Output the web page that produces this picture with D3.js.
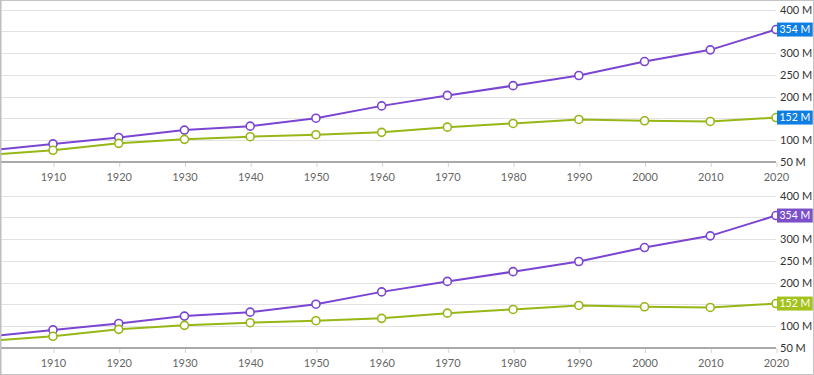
<!DOCTYPE html>
<html><head><meta charset="utf-8">
<script src="https://cdn.jsdelivr.net/npm/d3@7"></script>
<style>
html,body{margin:0;padding:0;background:#fff;}
svg{display:block;font-family:Lato,"Open Sans","Noto Sans",sans-serif;}
</style></head>
<body><svg id="c" width="814" height="375"></svg>
<script>
const years = [1900,1910,1920,1930,1940,1950,1960,1970,1980,1990,2000,2010,2020];
const seriesA = [76,91.5,106.3,123.2,132.3,150.5,178.8,202.8,225.2,248.5,280.6,307.4,354];
const seriesB = [66,76.8,92.8,102,108,112.6,118,130,138.5,147.7,144.6,143,152];
const yTicks = [50,100,150,200,250,300,350,400];
const xTicks = [1910,1920,1930,1940,1950,1960,1970,1980,1990,2000,2010,2020];
const colorA = "#7a45d2", colorB = "#96b716";
const badgeColors = [["#0f7ee2","#0f7ee2"],["#7b50c8","#a3c21c"]];
const FONT = "Lato,'Open Sans',sans-serif";

const svg = d3.select("#c");
const W = 814, H = 375;
const x = d3.scaleLinear().domain([1910,2020]).range([53,776]);
const panels = [0, 186];

svg.append("defs").append("clipPath").attr("id","clip")
  .append("rect").attr("x",1).attr("y",0).attr("width",775).attr("height",200);

panels.forEach((off,pi)=>{
  const g = svg.append("g").attr("transform",`translate(0,${off})`);
  const y = d3.scaleLinear().domain([50,400]).range([162,9.5]);
  const series = [[seriesA,colorA],[seriesB,colorB]];
  const badgeYs = series.map(([vals])=>y(vals[vals.length-1]));
  // grid
  g.append("g").selectAll("line").data(yTicks.filter(d=>d>50)).join("line")
    .attr("x1",1).attr("x2",776).attr("y1",d=>Math.round(y(d))+0.5).attr("y2",d=>Math.round(y(d))+0.5)
    .attr("stroke","#e2e2e2").attr("stroke-width",1);
  // x axis
  const xa = g.append("g").attr("transform","translate(0,162)")
    .call(d3.axisBottom(x).tickValues(xTicks).tickFormat(d3.format("d")).tickSize(5).tickPadding(6));
  xa.select(".domain").remove();
  xa.selectAll(".tick line").attr("stroke","#d4d4d4").attr("transform","translate(0.5,0)");
  xa.selectAll("text").attr("fill","#666").attr("font-size","11px").attr("font-family",FONT);
  g.append("line").attr("x1",1).attr("x2",776).attr("y1",162).attr("y2",162)
    .attr("stroke","#aaaaaa").attr("stroke-width",2);
  // y axis (labels hidden under value badges are not drawn)
  const visibleTicks = yTicks.filter(t=>badgeYs.every(b=>Math.abs(y(t)-b)>9));
  const ya = g.append("g").attr("transform","translate(776,0)")
    .call(d3.axisRight(y).tickValues(visibleTicks).tickFormat(d=>d+" M").tickSize(0).tickPadding(4));
  ya.select(".domain").remove();
  ya.selectAll("text").attr("fill","#333").attr("font-size","11px").attr("font-family",FONT);

  const plot = g.append("g").attr("clip-path","url(#clip)");
  const line = d3.line().x((d,i)=>x(years[i])).y(d=>y(d));
  series.forEach(([vals,col])=>{
    plot.append("path").datum(vals).attr("d",line).attr("fill","none")
      .attr("stroke",col).attr("stroke-width",2);
  });
  series.forEach(([vals,col])=>{
    g.append("g").selectAll("circle").data(vals.map((v,i)=>[years[i],v]).filter(d=>d[0]>=1910)).join("circle")
      .attr("cx",d=>x(d[0])).attr("cy",d=>y(d[1])).attr("r",4)
      .attr("fill","#fff").attr("stroke",col).attr("stroke-width",1.6);
  });
  // badges (drawn above the markers)
  series.forEach(([vals,col],si)=>{
    const v = vals[vals.length-1];
    const by = y(v);
    const rect = g.append("rect").attr("x",777).attr("y",by-7).attr("height",14)
      .attr("fill",badgeColors[pi][si]);
    const t = g.append("text").attr("x",779.5).attr("y",by).attr("dy","0.35em")
      .attr("fill","#fff").attr("font-size","10.5px").attr("font-family",FONT).text(Math.round(v)+" M");
    const w = t.node().getComputedTextLength();
    rect.attr("width",Math.max(29,w+5));
  });
});
// border
svg.append("rect").attr("x",0.5).attr("y",0.5).attr("width",W-1).attr("height",H-1)
  .attr("fill","none").attr("stroke","#c4c4c4").attr("stroke-width",1);
svg.append("line").attr("x1",1).attr("x2",1).attr("y1",0).attr("y2",H).attr("stroke","#bbb").attr("stroke-width",1);
</script></body></html>
